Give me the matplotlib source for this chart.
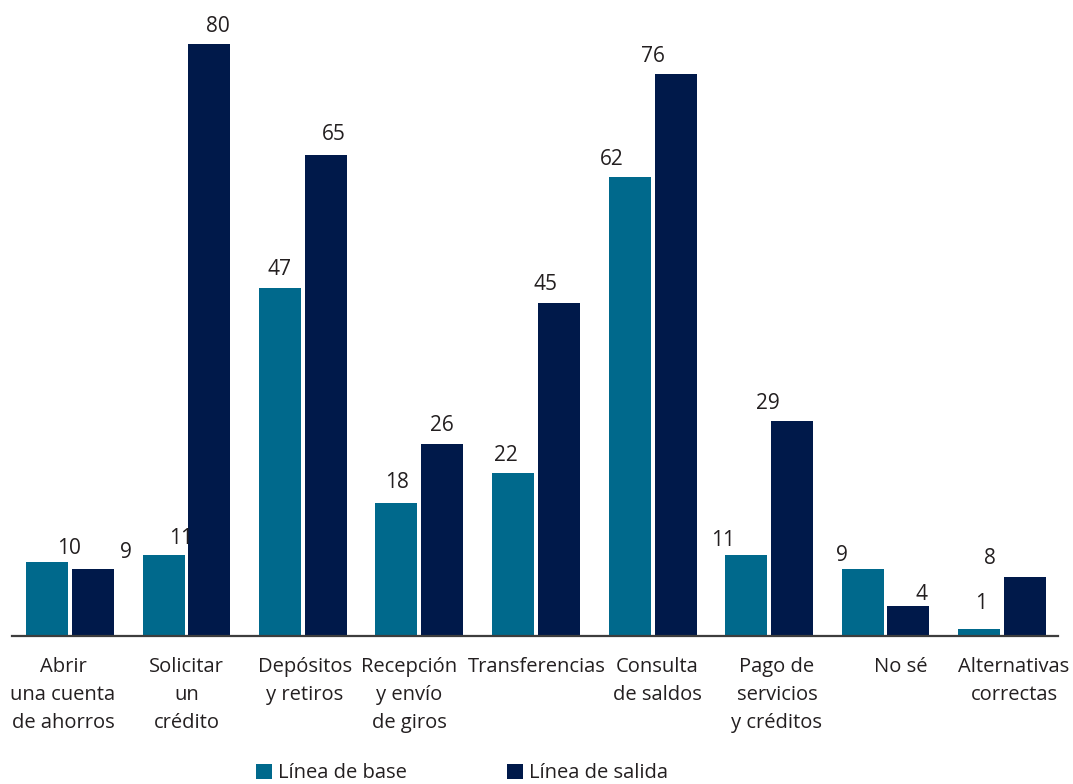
import numpy as np
import matplotlib.pyplot as plt
from matplotlib.patches import Rectangle
from matplotlib.transforms import blended_transform_factory

plt.rcParams['font.family'] = ['Open Sans', 'DejaVu Sans']

categorias = ['Abrir\nuna cuenta\nde ahorros', 'Solicitar\nun\ncrédito', 'Depósitos\ny retiros',
              'Recepción\ny envío\nde giros', 'Transferencias', 'Consulta\nde saldos',
              'Pago de\nservicios\ny créditos', 'No sé', 'Alternativas\ncorrectas']
linea_base = [10, 11, 47, 18, 22, 62, 11, 9, 1]
linea_salida = [9, 80, 65, 26, 45, 76, 29, 4, 8]
series = ['Línea de base', 'Línea de salida']

# label nudges (pixels): dx from bar centre, dy = label centre above bar top
base_dx = [22, 18, 0, 1, -7, -18, -23, -21, 2]
base_dy = [16, 18, 21, 22, 20, 20, 16, 16, 27]
sal_dx = [33, 8, 8, -1, -13, -23, -24, 13, -35]
sal_dy = [19, 20, 22, 20, 21, 19, 20, 14, 20]
cat_dx = [-7, 0, 2, -10, 1, 5, 8, 15, 12]

c_base = '#00698c'
c_sal = '#00194a'
c_txt = '#231f20'
fs = 14.5
pt = 0.72  # points per pixel at 100 dpi

fig = plt.figure(figsize=(10.73, 7.84), dpi=100)
ax = fig.add_axes([12/1073, 148/784, 1046/1073, 636/784])

x = np.arange(len(categorias))
w = 42/116.5
off = 23/116.5
b1 = ax.bar(x - off, linea_base, w, color=c_base, zorder=2)
b2 = ax.bar(x + off, linea_salida, w, color=c_sal, zorder=2)

ax.set_xlim((12-70)/116.5, (1058-70)/116.5)
ax.set_ylim(0, 636/7.4)

for vals, dxs, dys, xs in [(linea_base, base_dx, base_dy, x - off), (linea_salida, sal_dx, sal_dy, x + off)]:
    for xi, v, dx, dy in zip(xs, vals, dxs, dys):
        ax.annotate(str(v), (xi, v), xytext=(dx*pt, (dy-7.5)*pt), textcoords='offset points',
                    ha='center', va='baseline', fontsize=15, color=c_txt)

tr = blended_transform_factory(ax.transData, ax.transAxes)
for xi, lab, dx in zip(x, categorias, cat_dx):
    ax.annotate(lab, (xi, 0), xycoords=tr, xytext=(dx*pt, -15), textcoords='offset points',
                ha='center', va='top', fontsize=fs, color=c_txt, linespacing=1.55)

for s in ['top', 'right', 'left']:
    ax.spines[s].set_visible(False)
ax.spines['bottom'].set_color('#3d3d3d')
ax.spines['bottom'].set_linewidth(1.6)
ax.spines['bottom'].set_zorder(3)
ax.set_xticks([])
ax.set_yticks([])

# legend
for lx, col, lab in [(256, c_base, series[0]), (507, c_sal, series[1])]:
    fig.add_artist(Rectangle((lx/1073, 5/784), 16/1073, 15/784, transform=fig.transFigure,
                             color=col, lw=0))
    fig.text((lx+22)/1073, 6/784, lab, fontsize=fs, color=c_txt, va='baseline', ha='left')

fig.savefig('out.png', dpi=100)
